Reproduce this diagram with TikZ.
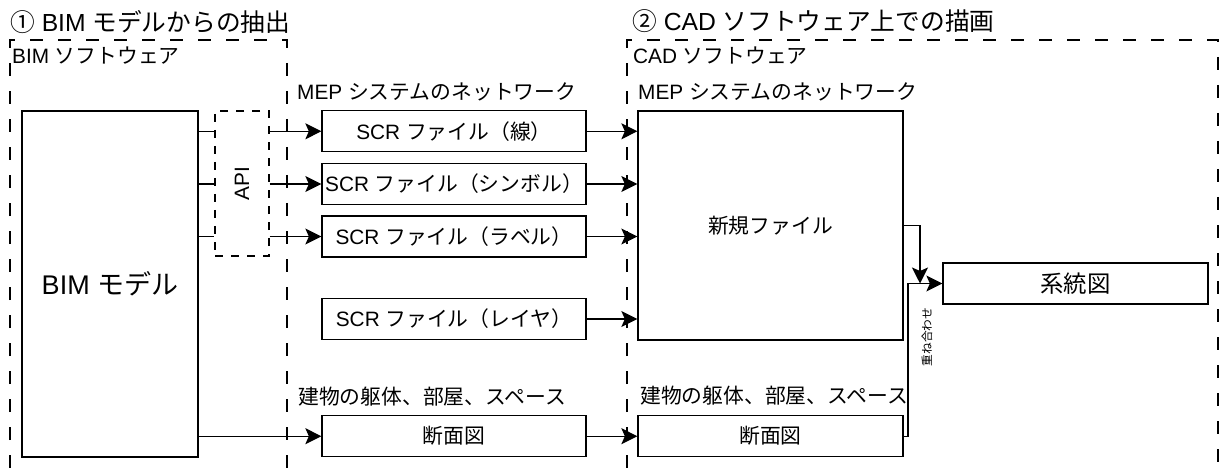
\documentclass[tikz,border=0pt]{standalone}
\usepackage{fontspec}
\setmainfont{Liberation Sans}
\newfontfamily\jp{Noto Sans CJK JP}
\newcommand\J[1]{{\jp #1}}
\newcommand\fsz[1]{\fontsize{#1}{#1}\selectfont}
\usetikzlibrary{arrows.meta}
\tikzset{
  bigtip/.tip={Stealth[length=16pt, width=16pt, inset=3.5pt]},
  box/.style={draw, line width=1.3pt, inner sep=0pt, font=\fsz{20.8}},
  scrbox/.style={box, minimum width=264pt, minimum height=41pt},
  region/.style={line width=1.1pt, dash pattern=on 13pt off 15pt},
  apibox/.style={draw, line width=1.1pt, dash pattern=on 8pt off 8pt, inner sep=0pt, minimum width=54pt, minimum height=145pt},
  arr/.style={line width=1.3pt, -bigtip},
  ln/.style={line width=1.3pt},
  lbl/.style={anchor=west, inner sep=0pt, font=\fsz{20.8}},
  ttl/.style={anchor=west, inner sep=0pt, font=\fsz{24.7}}
}
\begin{document}
\begin{tikzpicture}[x=1pt,y=-1pt]
\useasboundingbox (0,0) rectangle (1219,468);
% regions
\draw[region] (10,468) -- (10,40) -- (287,40) -- (287,468);
\draw[region] (627,468) -- (627,40) -- (1218,40) -- (1218,468);
\node[ttl] (t1) at (10,22) {\J{①} BIM \J{モデルからの抽出}};
\node[ttl] (t2) at (632,21) {\J{②} CAD \J{ソフトウェア上での描画}};
\node[lbl] (bs) at (12,56) {BIM \J{ソフトウェア}};
\node[lbl] (cs) at (633,56) {CAD \J{ソフトウェア}};
\node[lbl] (mep1) at (297,92) {MEP \J{システムのネットワーク}};
\node[lbl] (mep2) at (638,92) {MEP \J{システムのネットワーク}};
\node[lbl] (bld1) at (298,397) {\J{建物の躯体、部屋、スペース}};
\node[lbl] (bld2) at (640,396) {\J{建物の躯体、部屋、スペース}};
% boxes
\node[box, minimum width=176pt, minimum height=346pt, font=\fsz{27}] (bim) at (110,284) {BIM \J{モデル}};
\node[apibox] (api) at (242,183.5) {};
\node[rotate=90, font=\fsz{20.8}, inner sep=0pt] (apil) at (242,183.5) {API};
\node[scrbox] (s1) at (454,131.3) {SCR \J{ファイル（線）}};
\node[scrbox] (s2) at (454,184) {SCR \J{ファイル（シンボル）}};
\node[scrbox] (s3) at (454,236.5) {SCR \J{ファイル（ラベル）}};
\node[scrbox] (s4) at (454,319) {SCR \J{ファイル（レイヤ）}};
\node[scrbox, font=\fsz{20.8}\jp] (d1) at (454,436.2) {断面図};
\node[box, minimum width=265pt, minimum height=229pt, font=\fsz{20.8}\jp] (new) at (770.5,225.5) {新規ファイル};
\node[box, minimum width=265pt, minimum height=41pt, font=\fsz{20.8}\jp] (d2) at (770.5,436.2) {断面図};
\node[box, minimum width=265pt, minimum height=41pt, font=\fsz{23.4}\jp] (sys) at (1075.5,283.5) {系統図};
% connectors left
\foreach \s in {s1,s2,s3}{
  \draw[ln] (bim.east |- \s) -- (api.west |- \s);
  \draw[arr] (api.east |- \s) -- (\s.west);
  \draw[arr] (\s.east) -- (\s.east -| new.west);
}
\draw[arr] (s4.east) -- (s4.east -| new.west);
\draw[arr] (bim.east |- d1) -- (d1.west);
\draw[arr] (d1.east) -- (d2.west);
% right side
\coordinate (m) at (920,283.5);
\coordinate (j) at (908,283.5);
\draw[arr] (new.east) -| (m);
\draw[arr] (d2.east) -- (d2.east -| j) -- (j) -- (sys.west);
\node[rotate=90, font=\fsz{11.7}\jp, inner sep=0pt] (ov) at (927,337) {重ね合わせ};
\end{tikzpicture}
\end{document}
